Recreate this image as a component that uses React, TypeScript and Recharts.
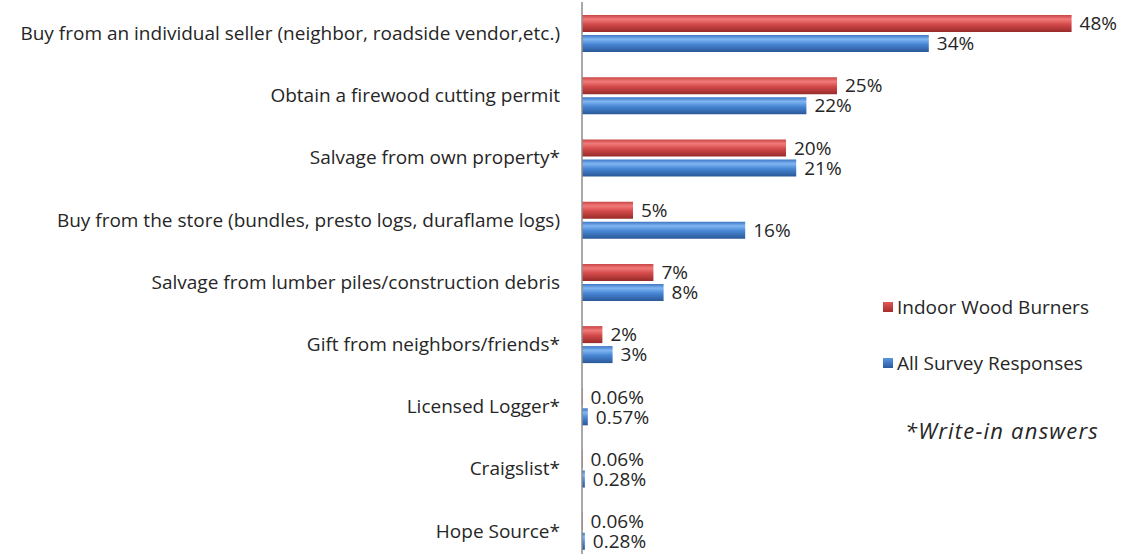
import React from 'react';
import { BarChart, Bar, XAxis, YAxis, LabelList } from 'recharts';

const categories = [
  'Buy from an individual seller (neighbor, roadside vendor,etc.)',
  'Obtain a firewood cutting permit',
  'Salvage from own property*',
  'Buy from the store (bundles, presto logs, duraflame logs)',
  'Salvage from lumber piles/construction debris',
  'Gift from neighbors/friends*',
  'Licensed Logger*',
  'Craigslist*',
  'Hope Source*',
];
const indoorBurners = [48, 25, 20, 5, 7, 2, 0.06, 0.06, 0.06];
const allResponses = [34, 22, 21, 16, 8, 3, 0.57, 0.28, 0.28];
const seriesNames = ['Indoor Wood Burners', 'All Survey Responses'];

const data = categories.map((name, i) => ({
  name,
  indoor: indoorBurners[i],
  all: allResponses[i],
}));

const FONT = '"Open Sans", sans-serif';
const FS = 19;
const pct = (v: number) => `${v}%`;

export default function App() {
  return (
    <div style={{ position: 'absolute', top: 0, left: 0, width: 1126, height: 554, overflow: 'hidden', background: '#fff' }}>
      <BarChart
        width={1126}
        height={562}
        data={data}
        layout="vertical"
        margin={{ top: 2, right: 34, bottom: 0, left: 0 }}
        barSize={17}
        barGap={3}
      >
        <defs>
          <linearGradient id="redGrad" x1="0" y1="0" x2="0" y2="1">
            <stop offset="0" stopColor="#c84444" />
            <stop offset="0.25" stopColor="#f27a7a" />
            <stop offset="0.55" stopColor="#d44a4a" />
            <stop offset="1" stopColor="#982a2a" />
          </linearGradient>
          <linearGradient id="blueGrad" x1="0" y1="0" x2="0" y2="1">
            <stop offset="0" stopColor="#3c74c4" />
            <stop offset="0.25" stopColor="#80b6f2" />
            <stop offset="0.55" stopColor="#4886d4" />
            <stop offset="1" stopColor="#2a5898" />
          </linearGradient>
        </defs>
        <XAxis type="number" domain={[0, 50]} hide />
        <YAxis
          type="category"
          dataKey="name"
          width={582}
          tickLine={false}
          tickSize={0}
          tickMargin={22}
          axisLine={{ stroke: '#8c8c8c', strokeWidth: 1.5 }}
          tick={{ fill: '#262626', fontSize: FS, fontFamily: FONT }}
          interval={0}
        />
        <Bar dataKey="indoor" name={seriesNames[0]} fill="url(#redGrad)" isAnimationActive={false}>
          <LabelList dataKey="indoor" position="right" offset={8} formatter={pct}
            style={{ fill: '#262626', fontSize: FS, fontFamily: FONT }} />
        </Bar>
        <Bar dataKey="all" name={seriesNames[1]} fill="url(#blueGrad)" isAnimationActive={false}>
          <LabelList dataKey="all" position="right" offset={8} formatter={pct}
            style={{ fill: '#262626', fontSize: FS, fontFamily: FONT }} />
        </Bar>
      </BarChart>
      <div style={{ position: 'absolute', left: 883, top: 295, fontFamily: FONT, fontSize: FS, color: '#262626' }}>
        <div style={{ display: 'flex', alignItems: 'center', height: 24 }}>
          <span style={{ width: 10, height: 10, marginRight: 4, background: 'linear-gradient(#e05858, #a82c2c)' }} />
          {seriesNames[0]}
        </div>
        <div style={{ display: 'flex', alignItems: 'center', height: 24, marginTop: 32 }}>
          <span style={{ width: 10, height: 10, marginRight: 4, background: 'linear-gradient(#5a96e0, #2a5aa0)' }} />
          {seriesNames[1]}
        </div>
        <div style={{ fontStyle: 'italic', fontSize: 22, letterSpacing: 1.2, marginTop: 40, marginLeft: 22, whiteSpace: 'nowrap' }}>
          *Write-in answers
        </div>
      </div>
    </div>
  );
}
